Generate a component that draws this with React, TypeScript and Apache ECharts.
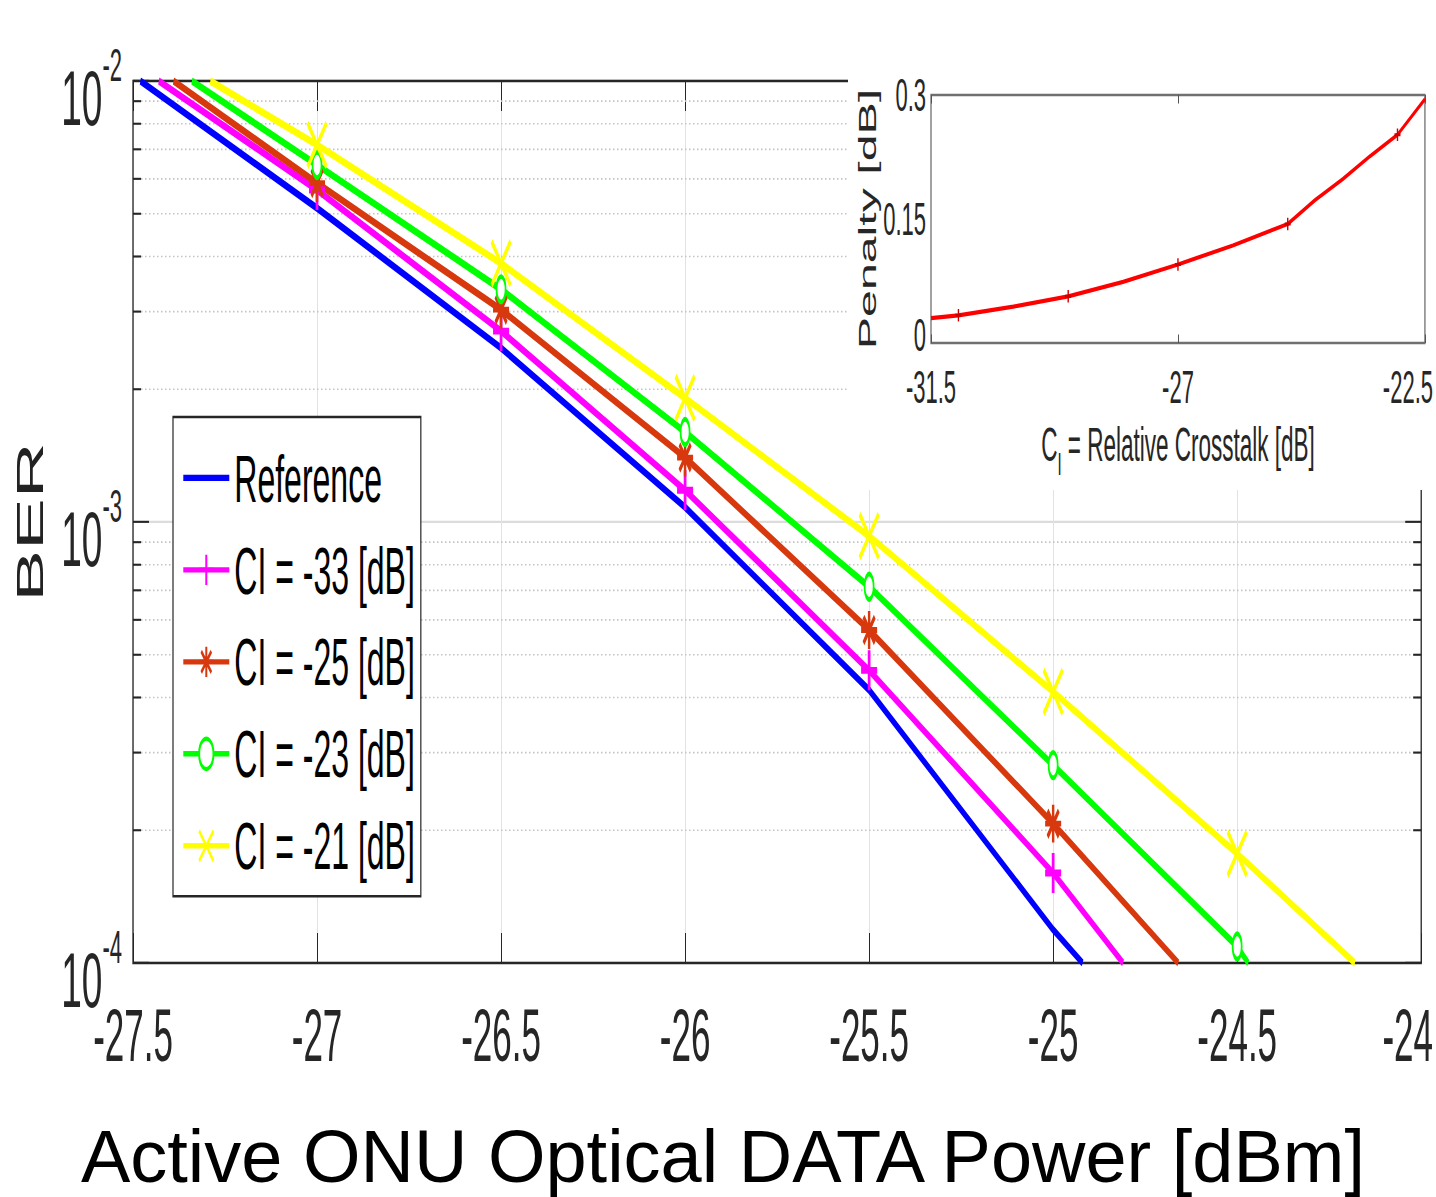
import React, { useEffect, useRef } from 'react';
import * as echarts from 'echarts';

// The original figure is vertically stretched (tall narrow glyphs and markers),
// so the chart is drawn in a flattened space and stretched with CSS.
const K = 2.1;
const W = 1436;
const H = 1197 / K;

// ---------------- data ----------------
const seriesNames = ['Reference', 'CI = -33 [dB]', 'CI = -25 [dB]', 'CI = -23 [dB]', 'CI = -21 [dB]'];
const seriesColors = ['#0000ff', '#ff00ff', '#d7380d', '#00ff00', '#ffff00'];

// measured power points carrying markers
const measuredPower = [-27, -26.5, -26, -25.5, -25, -24.5];

// first / last values are where each curve crosses 1e-2 and 1e-4
const refPower = [-27.48, -27, -26.5, -26, -25.5, -25, -24.92];
const refBer = [1e-2, 5.15e-3, 2.48e-3, 1.08e-3, 4.16e-4, 1.19e-4, 1e-4];

const ci33Power = [-27.43, -27, -26.5, -26, -25.5, -25, -24.81];
const ci33Ber = [1e-2, 5.66e-3, 2.71e-3, 1.18e-3, 4.61e-4, 1.6e-4, 1e-4];

const ci25Power = [-27.39, -27, -26.5, -26, -25.5, -25, -24.66];
const ci25Ber = [1e-2, 5.87e-3, 3.03e-3, 1.4e-3, 5.69e-4, 2.07e-4, 1e-4];

const ci23Power = [-27.34, -27, -26.5, -26, -25.5, -25, -24.5, -24.47];
const ci23Ber = [1e-2, 6.45e-3, 3.37e-3, 1.6e-3, 7.13e-4, 2.81e-4, 1.09e-4, 1e-4];

const ci21Power = [-27.29, -27, -26.5, -26, -25.5, -25, -24.5, -24.18];
const ci21Ber = [1e-2, 7.16e-3, 3.86e-3, 1.91e-3, 9.29e-4, 4.12e-4, 1.77e-4, 1e-4];

const berMinor = [2e-4, 3e-4, 4e-4, 5e-4, 6e-4, 7e-4, 8e-4, 9e-4, 2e-3, 3e-3, 4e-3, 5e-3, 6e-3, 7e-3, 8e-3, 9e-3];

// inset: penalty vs relative crosstalk
const crosstalk = [-31.5, -31, -30, -29, -28, -27, -26, -25, -24.5, -24, -23.5, -23, -22.5];
const penalty = [0.030, 0.0335, 0.044, 0.0565, 0.074, 0.095, 0.118, 0.144, 0.173, 0.198, 0.226, 0.252, 0.295];
const crosstalkMarked = [-31, -29, -27, -25, -23];

// ---------------- styling ----------------
const FONT = "'Liberation Sans', Arial, Helvetica, sans-serif";
const AX = '#262626';
const PLUS = 'path://M5,0L5,10M0,5L10,5';
const STAR = 'path://M5,0L5,10M0,5L10,5M1.5,1.5L8.5,8.5M1.5,8.5L8.5,1.5';
const CROSS = 'path://M0,0L10,10M0,10L10,0';
const LEGEND_LINE = 'path://M0,0L46,0L46,3L0,3Z';

const X_MIN = -27.5;
const X_MAX = -24;
const INSET_X_MIN = -31.5;
const INSET_X_MAX = -22.5;
const LINE_W = 3.6;

function lineSeries(idx: number, xs: number[], ys: number[], symbol: string, symbolSize: any, borderWidth: number) {
  const color = seriesColors[idx];
  return {
    type: 'line',
    name: seriesNames[idx],
    xAxisIndex: 0,
    yAxisIndex: 0,
    z: 3,
    clip: true,
    symbol,
    symbolSize,
    showSymbol: true,
    showAllSymbol: true,
    data: xs.map((x, i) =>
      symbol !== 'none' && measuredPower.includes(x)
        ? [x, ys[i]]
        : { value: [x, ys[i]], symbol: 'none' }
    ),
    lineStyle: { color, width: LINE_W },
    itemStyle: { color, borderColor: color, borderWidth },
    emphasis: { disabled: true },
  };
}

const yLabelRich = {
  b: { fontFamily: FONT, fontSize: 37, color: AX, lineHeight: 53, verticalAlign: 'middle' },
  e: { fontFamily: FONT, fontSize: 22, color: AX, lineHeight: 22, verticalAlign: 'top' },
};

const mainXRich = {
  d: { fontFamily: FONT, fontSize: 35, color: AX },
  m: { fontFamily: FONT, fontSize: 35, color: AX, padding: [0, 27, 0, 0] },
};

const insetXRich = {
  d: { fontFamily: FONT, fontSize: 22, color: AX },
  m: { fontFamily: FONT, fontSize: 22, color: AX, padding: [0, 34, 0, 0] },
};

const option: any = {
  animation: false,
  backgroundColor: '#ffffff',
  grid: [
    {
      left: 133,
      right: W - 1422,
      top: 81 / K,
      bottom: H - 963 / K,
      show: true,
      borderColor: AX,
      borderWidth: 1.3,
      backgroundColor: 'transparent',
      containLabel: false,
      z: 2,
    },
    {
      left: 931,
      top: 95 / K,
      width: 494,
      height: (343 - 95) / K,
      show: true,
      borderColor: '#707070',
      borderWidth: 1.3,
      backgroundColor: '#ffffff',
      containLabel: false,
      z: 6,
    },
  ],
  legend: {
    data: seriesNames.map((n, i) => (i === 0 ? { name: n, icon: LEGEND_LINE } : { name: n })),
    orient: 'vertical',
    left: 173,
    top: 417 / K,
    itemWidth: 46,
    itemHeight: 18,
    itemGap: 11.8,
    padding: [13, 6, 8, 9],
    borderColor: AX,
    borderWidth: 1.2,
    backgroundColor: '#ffffff',
    lineStyle: { width: 2.6 },
    textStyle: { fontFamily: FONT, fontSize: 32, color: '#000' },
    selectedMode: false,
    z: 8,
  },
  xAxis: [
    {
      type: 'value',
      gridIndex: 0,
      min: X_MIN,
      max: X_MAX,
      interval: 0.5,
      position: 'bottom',
      axisLine: { show: false },
      axisTick: { show: true, inside: true, length: 30 / K, lineStyle: { color: AX, width: 1 } },
      axisLabel: {
        margin: 17,
        formatter: (v: number) => (v === X_MAX ? `{m|${v}}` : `{d|${v}}`),
        rich: mainXRich,
      },
      splitLine: { show: true, lineStyle: { color: '#e2e2e2', width: 1 } },
    },
    {
      type: 'value',
      gridIndex: 0,
      min: X_MIN,
      max: X_MAX,
      interval: 0.5,
      position: 'top',
      axisLine: { show: false },
      axisTick: { show: true, inside: true, length: 30 / K, lineStyle: { color: AX, width: 1 } },
      axisLabel: { show: false },
      splitLine: { show: false },
    },
    {
      type: 'value',
      gridIndex: 1,
      min: INSET_X_MIN,
      max: INSET_X_MAX,
      interval: 4.5,
      position: 'bottom',
      z: 6,
      axisLine: { show: false },
      axisTick: { show: true, inside: true, length: 4, lineStyle: { color: '#555', width: 1 } },
      axisLabel: {
        margin: 10,
        formatter: (v: number) => (v === INSET_X_MAX ? `{m|${v}}` : `{d|${v}}`),
        rich: insetXRich,
      },
      splitLine: { show: false },
      name: '{n|C}{s|I}{n| = Relative Crosstalk [dB]}',
      nameLocation: 'middle',
      nameGap: 37,
      nameTextStyle: {
        rich: {
          n: { fontFamily: FONT, fontSize: 22.5, color: AX, lineHeight: 22, verticalAlign: 'top' },
          s: { fontFamily: FONT, fontSize: 15, color: AX, lineHeight: 15, padding: [13, 0, 0, 0], verticalAlign: 'top' },
        },
      },
    },
    {
      type: 'value',
      gridIndex: 1,
      min: INSET_X_MIN,
      max: INSET_X_MAX,
      interval: 4.5,
      position: 'top',
      z: 6,
      axisLine: { show: false },
      axisTick: { show: true, inside: true, length: 4, lineStyle: { color: '#555', width: 1 } },
      axisLabel: { show: false },
      splitLine: { show: false },
    },
  ],
  yAxis: [
    {
      type: 'log',
      logBase: 10,
      gridIndex: 0,
      min: 1e-4,
      max: 1e-2,
      position: 'left',
      axisLine: { show: false },
      axisTick: { show: true, inside: true, length: 16, lineStyle: { color: AX, width: 1 } },
      axisLabel: {
        margin: 11,
        padding: [16, 0, 0, 0],
        formatter: (v: number) => `{b|10}{e|${Math.round(Math.log10(v))}}`,
        rich: yLabelRich,
      },
      splitLine: { show: true, lineStyle: { color: '#dcdcdc', width: 1 } },
      name: 'BER',
      nameLocation: 'middle',
      nameRotate: 90,
      nameGap: 84,
      nameTextStyle: { fontFamily: FONT, fontSize: 37, color: '#222' },
    },
    {
      type: 'log',
      logBase: 10,
      gridIndex: 0,
      min: 1e-4,
      max: 1e-2,
      position: 'right',
      axisLine: { show: false },
      axisTick: { show: true, inside: true, length: 16, lineStyle: { color: AX, width: 1 } },
      axisLabel: { show: false },
      splitLine: { show: false },
    },
    {
      type: 'value',
      gridIndex: 1,
      min: 0,
      max: 0.3,
      interval: 0.15,
      position: 'left',
      z: 6,
      axisLine: { show: false },
      axisTick: { show: false },
      axisLabel: {
        margin: 5,
        formatter: (v: number) => (v === 0 ? '{z|0}' : `{t|${Math.round(v * 100) / 100}}`),
        rich: {
          t: { fontFamily: FONT, fontSize: 22, color: AX },
          z: { fontFamily: FONT, fontSize: 22, color: AX, padding: [0, 0, 8, 0] },
        },
      },
      splitLine: { show: false },
      name: 'Penalty [dB]',
      nameLocation: 'middle',
      nameRotate: 90,
      nameGap: 40,
      nameTextStyle: { fontFamily: FONT, fontSize: 23, color: AX },
    },
  ],
  graphic: [
    {
      type: 'rect',
      silent: true,
      z: 5,
      shape: { x: 848, y: 0, width: W - 848, height: 490 / K },
      style: { fill: '#ffffff' },
    },
    {
      type: 'text',
      silent: true,
      z: 10,
      x: 723,
      y: 1156.5 / K,
      scaleY: 1 / K,
      style: {
        text: 'Active ONU Optical DATA Power [dBm]',
        fontFamily: FONT,
        fontSize: 74,
        fill: '#000',
        textAlign: 'center',
        textVerticalAlign: 'middle',
        align: 'center',
        verticalAlign: 'middle',
      },
    },
  ],
  series: [
    {
      type: 'custom',
      name: 'minor-grid',
      xAxisIndex: 0,
      yAxisIndex: 0,
      z: 1,
      silent: true,
      data: berMinor.map((v) => [X_MIN, v]),
      renderItem: (params: any, api: any) => {
        const v = api.value(1);
        const l = api.coord([X_MIN, v]);
        const r = api.coord([X_MAX, v]);
        return {
          type: 'group',
          children: [
            {
              type: 'line',
              shape: { x1: l[0], y1: l[1], x2: r[0], y2: r[1] },
              style: { stroke: '#c4c4c4', lineWidth: 0.8, lineDash: [1.5, 2.5] },
            },
            {
              type: 'line',
              shape: { x1: l[0], y1: l[1], x2: l[0] + 8, y2: l[1] },
              style: { stroke: AX, lineWidth: 1 },
            },
            {
              type: 'line',
              shape: { x1: r[0] - 8, y1: r[1], x2: r[0], y2: r[1] },
              style: { stroke: AX, lineWidth: 1 },
            },
          ],
        };
      },
    },
    lineSeries(0, refPower, refBer, 'none', 10, 0),
    lineSeries(1, ci33Power, ci33Ber, PLUS, [16, 19], 3),
    lineSeries(2, ci25Power, ci25Ber, STAR, [16, 18], 2.6),
    lineSeries(3, ci23Power, ci23Ber, 'emptyCircle', [9, 12], 2.2),
    lineSeries(4, ci21Power, ci21Ber, CROSS, [19, 21], 2.8),
    {
      type: 'line',
      name: 'penalty',
      xAxisIndex: 2,
      yAxisIndex: 2,
      z: 7,
      symbol: PLUS,
      symbolSize: [6, 6],
      showSymbol: true,
      showAllSymbol: true,
      data: crosstalk.map((x, i) =>
        crosstalkMarked.includes(x) ? [x, penalty[i]] : { value: [x, penalty[i]], symbol: 'none' }
      ),
      lineStyle: { color: '#ff0000', width: 2 },
      itemStyle: { color: '#e00000', borderColor: '#d00000', borderWidth: 1.4 },
      emphasis: { disabled: true },
    },
  ],
};

export default function App() {
  const ref = useRef<HTMLDivElement>(null);
  useEffect(() => {
    if (!ref.current) return;
    const html = document.documentElement;
    const prevHtml = html.style.overflow;
    const prevBody = document.body.style.overflow;
    html.style.overflow = 'hidden';
    document.body.style.overflow = 'hidden';
    const chart = echarts.init(ref.current, null, { renderer: 'svg', width: W, height: H });
    chart.setOption(option);
    return () => {
      chart.dispose();
      html.style.overflow = prevHtml;
      document.body.style.overflow = prevBody;
    };
  }, []);
  return (
    <div
      style={{
        position: 'fixed',
        left: 0,
        top: 0,
        width: W,
        height: 1197,
        overflow: 'hidden',
        background: '#ffffff',
      }}
    >
      <div
        ref={ref}
        style={{
          position: 'absolute',
          left: 0,
          top: 0,
          width: W,
          height: H,
          transform: `scaleY(${K})`,
          transformOrigin: '0 0',
        }}
      />
    </div>
  );
}
